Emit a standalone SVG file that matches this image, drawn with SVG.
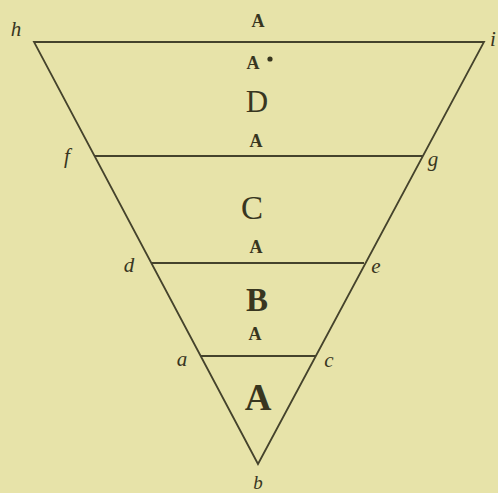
<svg xmlns="http://www.w3.org/2000/svg" width="498" height="493" viewBox="0 0 498 493">
<style>
.ln{stroke:#45432c;stroke-width:1.8;fill:none}
.t{font-family:"Liberation Serif",serif;fill:#38361f;text-anchor:middle}
.s{font-size:18px;font-weight:bold}
.it{font-style:italic;font-size:21px}
.big{font-size:32px}
</style>
<rect width="498" height="493" fill="#e7e3a9"/>
<g id="connectors">
<path class="ln" d="M34 42 L484 42 L258 464 Z"/>
<line class="ln" x1="94.5" y1="156" x2="423" y2="156"/>
<line class="ln" x1="151" y1="263" x2="364" y2="263"/>
<line class="ln" x1="200.5" y1="356" x2="316" y2="356"/>
</g>
<g id="labels-top">
<text class="t s" x="258" y="27">A</text>
<text class="t s" x="253" y="69">A</text>
<circle cx="270" cy="59" r="2.6" fill="#38361f"/>
<text class="t big" x="257" y="112" style="font-size:31px">D</text>
<text class="t s" x="256" y="147">A</text>
</g>
<g id="node-h"><text class="t it" x="16" y="36">h</text></g>
<g id="node-i"><text class="t it" x="493" y="46">i</text></g>
<g id="node-f"><text class="t it" x="67" y="163">f</text></g>
<g id="node-g"><text class="t it" x="433" y="166">g</text></g>
<g id="region-C"><text class="t big" x="252" y="219" style="font-size:33px">C</text></g>
<text class="t s" x="256" y="253">A</text>
<g id="node-d"><text class="t it" x="129" y="272">d</text></g>
<g id="node-e"><text class="t it" x="376" y="273">e</text></g>
<g id="region-B"><text class="t big" x="257" y="311" style="font-size:33px;font-weight:bold">B</text></g>
<text class="t s" x="255" y="340">A</text>
<g id="node-a"><text class="t it" x="182" y="366">a</text></g>
<g id="node-c"><text class="t it" x="329" y="367">c</text></g>
<g id="region-A"><text class="t big" x="258" y="410" style="font-size:37px;font-weight:bold">A</text></g>
<g id="node-b"><text class="t it" x="258" y="489" style="font-size:19px">b</text></g>
</svg>
